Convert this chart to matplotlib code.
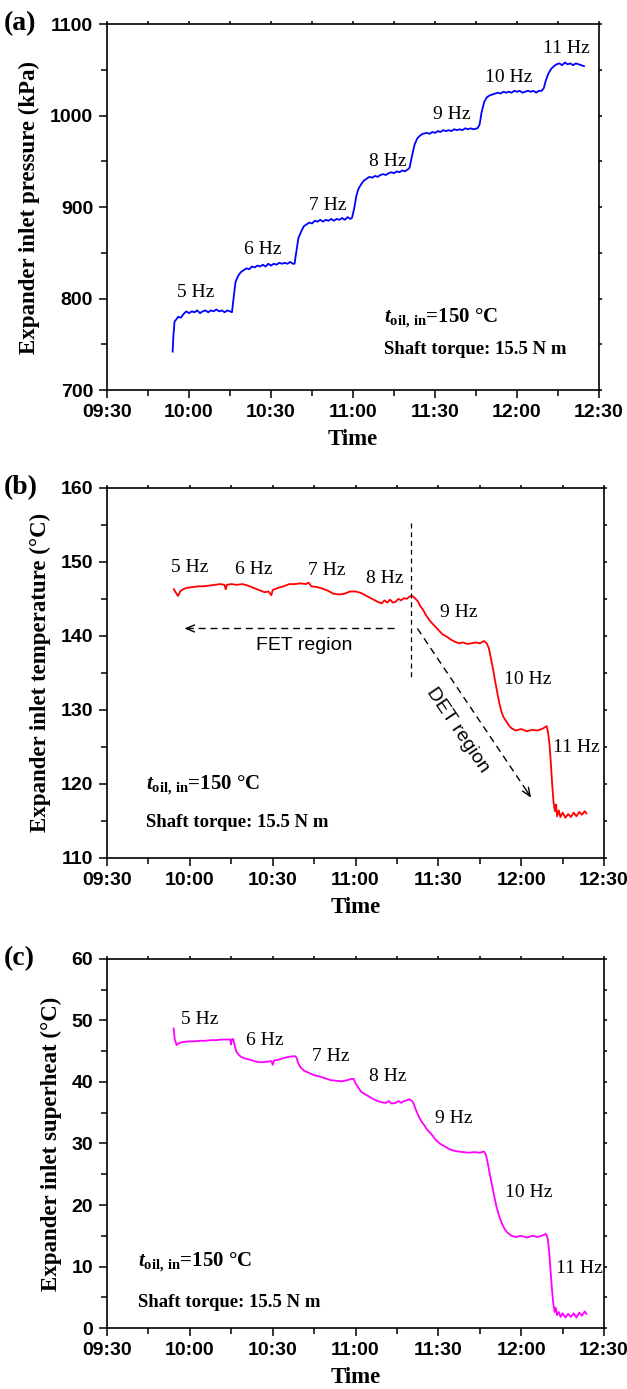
import matplotlib
matplotlib.use("Agg")
import matplotlib.pyplot as plt
from matplotlib.ticker import MultipleLocator

# time in minutes after 09:30
tick_pos = [0, 30, 60, 90, 120, 150, 180]
tick_labels = ['09:30', '10:00', '10:30', '11:00', '11:30', '12:00', '12:30']

# (a) expander inlet pressure, kPa
time_a = [24.0, 24.3, 24.7, 25.3, 26, 27, 28, 29, 30, 31, 32, 33, 34, 35, 36, 37, 38, 39, 40, 41, 42, 43, 44, 45, 45.7,
          46.3, 47, 48, 49, 50, 51, 52, 53, 54, 55, 56, 57, 58, 59, 60, 61, 62, 63, 64, 65, 66, 67, 68, 68.6,
          69.2, 70, 71, 72, 73, 74, 75, 76, 77, 78, 79, 80, 81, 82, 83, 84, 85, 86, 87, 88, 89, 89.6,
          90.4, 91.2, 92, 93, 94, 95, 96, 97, 98, 99, 100, 101, 102, 103, 104, 105, 106, 107, 108, 109, 110,
          110.7, 111.5, 112.5, 113.5, 114.5, 115.5, 117, 118, 119, 120, 121, 122, 123, 124, 125, 126, 127, 128, 129, 130,
          131, 132, 133, 134, 135.5, 136.3, 137, 138, 139, 140, 141, 142, 143, 144, 145, 146, 147, 148, 149, 150,
          151, 152, 153, 154, 155, 156, 157, 158, 159, 159.8, 160.5, 161.5, 162.5, 163.5, 164.5, 165.5, 166.5,
          167.5, 168.5, 169.5, 170.5, 171.5, 172.5, 173.5, 174.5]
pres_a = [742, 760, 775, 777, 780, 779, 783, 786, 784, 786, 785, 787, 784, 786, 787, 785, 787, 786, 788, 786, 787, 785, 787, 786, 785,
          800, 818, 825, 829, 831, 833, 832, 835, 834, 836, 835, 837, 835, 838, 836, 838, 837, 839, 838, 839, 838, 840, 838, 838,
          850, 866, 873, 879, 881, 883, 882, 885, 884, 886, 884, 886, 885, 887, 885, 887, 886, 888, 886, 889, 887, 888,
          898, 912, 920, 925, 929, 931, 933, 932, 934, 933, 935, 936, 935, 937, 938, 937, 939, 938, 940, 939, 941,
          943, 955, 968, 975, 978, 980, 981, 980, 982, 981, 983, 982, 984, 983, 984, 983, 985, 984, 985, 984,
          986, 985, 986, 985, 986, 990, 1003, 1015, 1020, 1022, 1023, 1024, 1025, 1024, 1026, 1025, 1026, 1025, 1027, 1026,
          1027, 1025, 1026, 1027, 1026, 1027, 1025, 1027, 1027, 1030, 1038, 1046, 1051, 1054, 1056, 1057, 1055,
          1058, 1056, 1057, 1055, 1057, 1056, 1055, 1054]

# (b) expander inlet temperature, degC
time_b = [24.2, 25.0, 25.7, 26.5, 27.5, 29, 31, 33, 35, 37, 39, 41, 42.5, 43, 43.4, 45, 47, 49, 51, 53, 55, 57, 58.5, 59.5,
          60, 62, 64, 66, 68, 70, 72, 73, 74, 76, 78, 80, 82, 84, 86, 88, 90, 92, 94, 96, 98, 99.5, 100.5, 101.5, 102.5,
          103.5, 104.5, 105.5, 106.5, 107.5, 108.5, 109.5, 110.5, 111.5, 112.5, 113.5, 114.5, 115.5, 117, 118.5, 120,
          121.5, 123, 124.5, 126, 127.5, 129, 130.5, 132, 133.5, 135, 136.5, 137.5, 138.3, 139, 139.8, 140.5, 141.2, 142,
          142.8, 143.6, 144.5, 145.5, 146.5, 148, 150, 152, 154, 156, 158, 159.2, 159.7, 160.2, 160.7, 161.2, 161.7, 162.2,
          162.6, 163.0, 163.6, 164.2, 165, 166, 167, 168, 169, 170, 171, 172, 173, 173.6]
temp_b = [146.3, 145.8, 145.4, 146.0, 146.3, 146.5, 146.6, 146.7, 146.7, 146.8, 146.9, 147.0, 146.9, 146.3, 146.9, 147.0, 146.9, 147.0, 146.8, 146.5, 146.2, 145.9, 146.0, 145.5,
          146.2, 146.5, 146.7, 147.0, 147.0, 147.1, 147.0, 147.2, 146.7, 146.6, 146.4, 146.1, 145.7, 145.6, 145.7, 146.0, 146.0, 145.8, 145.4, 145.0, 144.6, 144.4, 144.8, 144.5, 144.9,
          144.5, 144.6, 145.0, 144.8, 145.1, 145.0, 145.3, 145.4, 145.1, 144.7, 144.0, 143.5, 142.8, 142.0, 141.4, 140.8,
          140.2, 139.9, 139.5, 139.2, 139.0, 139.1, 138.9, 139.0, 139.1, 139.0, 139.3, 139.0, 138.3, 137.0, 135.5, 134.0, 132.6, 131.0,
          129.8, 129.0, 128.5, 127.9, 127.5, 127.2, 127.4, 127.1, 127.3, 127.2, 127.5, 127.8, 127.0, 125.5, 123.0, 120.0, 117.5, 116.3,
          117.2, 115.6, 116.4, 115.5, 116.1, 115.4, 115.9, 115.5, 116.1, 115.6, 116.2, 115.8, 116.3, 116.0]

# (c) expander inlet superheat, degC
time_c = [24.1, 24.5, 25.2, 26.0, 27.5, 29.5, 31.5, 33.5, 35.5, 37.5, 39.5, 41.5, 43.5, 44.6, 44.9, 45.2, 45.7, 46.2, 46.8,
          47.5, 48.5, 50, 52, 54, 56, 58, 59.5, 60, 60.5, 62, 64, 66, 68, 68.6, 69.3, 70.2, 71.5, 73, 75, 77, 79, 81, 83,
          85, 87, 88.5, 89.3, 90, 91, 92, 93.5, 95, 96.5, 98, 99.5, 101, 102, 103, 104.5, 105.5, 106.5, 107.5, 108.5,
          109.5, 110.5, 111.2, 112, 113, 114, 115, 116, 117.5, 119, 120.5, 122, 123.5, 125, 127, 129, 131, 133, 135,
          136.5, 137.2, 137.8, 138.5, 139.3, 140.2, 141, 142, 143, 144, 145, 146.5, 148, 150, 152, 154, 156, 158, 159,
          159.6, 160.1, 160.6, 161.1, 161.6, 162.1, 162.5, 163, 163.6, 164.3, 165, 166, 167, 168, 169, 170, 171, 172,
          173, 173.6]
sh_c = [48.7, 47.0, 46.0, 46.3, 46.5, 46.6, 46.6, 46.7, 46.7, 46.8, 46.8, 46.9, 46.9, 46.9, 46.1, 46.9, 47.0, 46.0, 45.0,
        44.5, 44.1, 43.8, 43.6, 43.3, 43.2, 43.3, 43.4, 42.8, 43.5, 43.6, 43.9, 44.1, 44.2, 44.0, 43.0, 42.3, 41.8, 41.5, 41.1, 40.9, 40.6, 40.3, 40.2,
        40.1, 40.3, 40.5, 40.5, 39.8, 39.1, 38.4, 38.0, 37.6, 37.2, 36.9, 36.7, 36.6, 36.9, 36.5, 36.6, 36.9, 36.6, 36.9, 37.0,
        37.2, 36.9, 36.3, 35.3, 34.3, 33.5, 32.9, 32.2, 31.5, 30.6, 30.0, 29.6, 29.2, 28.9, 28.7, 28.6, 28.5, 28.6, 28.5,
        28.7, 28.2, 27.0, 25.3, 23.5, 21.5, 19.8, 18.2, 17.0, 16.1, 15.5, 15.0, 14.8, 15.0, 14.7, 15.0, 14.8, 15.1, 15.3,
        14.5, 12.5, 9.5, 6.5, 4.0, 2.6, 3.3, 2.1, 2.6, 1.8, 2.4, 1.7, 2.3, 1.8, 2.4, 1.7, 2.5, 2.0,
        2.7, 2.3]

hz_labels = ['5 Hz', '6 Hz', '7 Hz', '8 Hz', '9 Hz', '10 Hz', '11 Hz']
hz_x_a = [32.5, 57.1, 80.8, 102.8, 126.2, 147.0, 167.9]
hz_y_a = [807, 854, 902, 950, 1001, 1042, 1073]
hz_x_b = [29.8, 53.0, 79.7, 100.7, 127.5, 152.5, 169.9]
hz_y_b = [149.3, 149.0, 148.9, 147.7, 143.2, 134.1, 124.9]
hz_x_c = [33.6, 57.2, 81.2, 101.7, 125.4, 152.8, 170.9]
hz_y_c = [50.2, 46.7, 44.1, 40.9, 34.0, 22.1, 9.6]

plt.rcParams['mathtext.fontset'] = 'custom'
plt.rcParams['mathtext.rm'] = 'Liberation Serif:bold'
plt.rcParams['mathtext.it'] = 'Liberation Serif:italic:bold'
plt.rcParams['mathtext.bf'] = 'Liberation Serif:bold'

serif = 'Liberation Serif'
sans = 'Liberation Sans'

fig = plt.figure(figsize=(6.27, 13.89), dpi=100)
ax_a = fig.add_axes([0.1707, 0.7192, 0.7847, 0.2635])
ax_b = fig.add_axes([0.1707, 0.3825, 0.7927, 0.2662])
ax_c = fig.add_axes([0.1707, 0.0439, 0.7927, 0.2657])


def style_axis(ax, ylim, ymaj, ymin, ylabel, letter):
    ax.set_xlim(0, 180)
    ax.set_ylim(*ylim)
    ax.set_xticks(tick_pos)
    ax.set_xticklabels(tick_labels)
    ax.xaxis.set_minor_locator(MultipleLocator(15))
    ax.yaxis.set_major_locator(MultipleLocator(ymaj))
    ax.yaxis.set_minor_locator(MultipleLocator(ymin))
    for s in ax.spines.values():
        s.set_linewidth(1.2)
    ax.tick_params(which='both', direction='out', top=True, right=True, width=1.1)
    ax.tick_params(which='major', length=6, pad=4)
    ax.tick_params(which='minor', length=4)
    for lab in ax.get_xticklabels() + ax.get_yticklabels():
        lab.set_fontfamily(sans)
        lab.set_fontweight('bold')
        lab.set_fontsize(14)
    # shorter mirrored ticks on top / right
    for t in ax.xaxis.get_major_ticks() + ax.xaxis.get_minor_ticks() + \
            ax.yaxis.get_major_ticks() + ax.yaxis.get_minor_ticks():
        t.tick2line.set_markersize(2.5)
    ax.set_xlabel('Time', fontfamily=serif, fontweight='bold', fontsize=16.5, labelpad=6)
    ax.set_ylabel(ylabel, fontfamily=serif, fontweight='bold', fontsize=16.5, labelpad=7)
    bb = ax.get_position()
    fig.text(0.006, bb.y1, letter, fontfamily=serif, fontweight='bold',
             fontsize=20, ha='left', va='center')


def cond_text(ax, x, y1, y2):
    ax.text(x, y1, r'$\mathit{t}_{\mathrm{oil,\,in}}$=150 °C', fontfamily=serif, fontweight='bold',
            fontsize=15, ha='left', va='center')
    ax.text(x, y2, 'Shaft torque: 15.5 N m', fontfamily=serif, fontweight='bold', fontsize=13.5,
            ha='left', va='center')


# (a)
ax_a.plot(time_a, pres_a, color='#0000FF', lw=1.3)
style_axis(ax_a, (700, 1100), 100, 50, 'Expander inlet pressure (kPa)', '(a)')
for lab, x, y in zip(hz_labels, hz_x_a, hz_y_a):
    ax_a.text(x, y, lab, fontfamily=serif, fontsize=14, ha='center', va='center')
cond_text(ax_a, 101.3, 778, 744)

# (b)
ax_b.plot(time_b, temp_b, color='#FF0000', lw=1.3)
style_axis(ax_b, (110, 160), 10, 5, 'Expander inlet temperature (°C)', '(b)')
for lab, x, y in zip(hz_labels, hz_x_b, hz_y_b):
    ax_b.text(x, y, lab, fontfamily=serif, fontsize=14, ha='center', va='center')
cond_text(ax_b, 14.0, 119.8, 114.7)
ax_b.plot([110, 110], [155.3, 134.4], color='k', lw=0.9, ls=(0, (4, 3)))
# FET region arrow
ax_b.plot([104, 29.5], [141, 141], color='k', lw=1.0, ls=(0, (5, 3.5)))
ax_b.annotate('', xy=(27.0, 141), xytext=(31.0, 141),
              arrowprops=dict(arrowstyle='->,head_length=0.6,head_width=0.25', color='k', lw=1.0))
ax_b.text(71.3, 138.7, 'FET region', fontfamily=sans, fontsize=14, ha='center', va='center')
# DET region arrow
ax_b.plot([112.4, 152.6], [141.0, 118.7], color='k', lw=1.0, ls=(0, (5, 3.5)))
ax_b.annotate('', xy=(154.1, 117.8), xytext=(151.5, 119.3),
              arrowprops=dict(arrowstyle='->,head_length=0.6,head_width=0.25', color='k', lw=1.0))
ax_b.text(126.9, 127.2, 'DET region', fontfamily=sans, fontsize=14, ha='center', va='center',
          rotation=-56, rotation_mode='anchor')

# (c)
ax_c.plot(time_c, sh_c, color='#FF00FF', lw=1.3)
style_axis(ax_c, (0, 60), 10, 5, 'Expander inlet superheat (°C)', '(c)')
for lab, x, y in zip(hz_labels, hz_x_c, hz_y_c):
    ax_c.text(x, y, lab, fontfamily=serif, fontsize=14, ha='center', va='center')
cond_text(ax_c, 11.2, 10.6, 4.2)

fig.savefig('out.png', dpi=100)
